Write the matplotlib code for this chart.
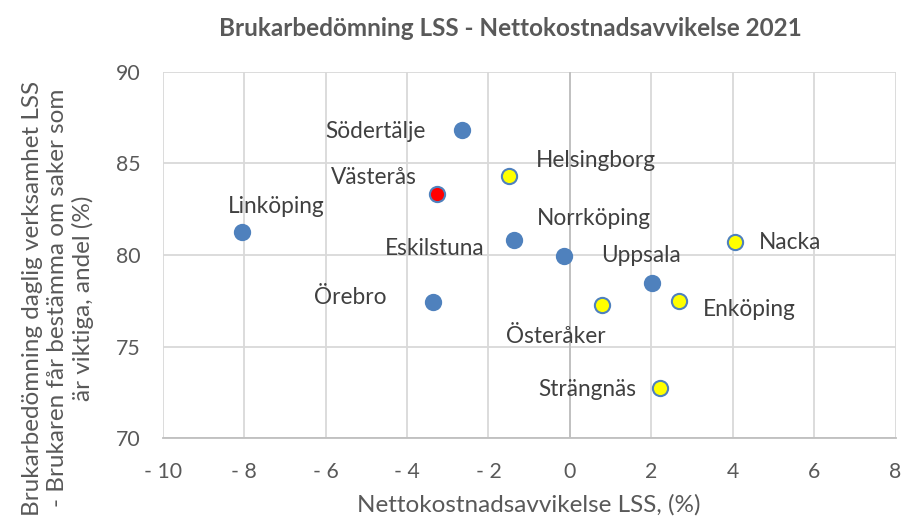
import matplotlib
matplotlib.use("Agg")
import matplotlib.pyplot as plt

plt.rcParams['font.family'] = ['Lato', 'DejaVu Sans']

# Data
kommuner = ["Södertälje", "Västerås", "Helsingborg", "Linköping", "Eskilstuna",
            "Norrköping", "Uppsala", "Nacka", "Enköping", "Österåker",
            "Strängnäs", "Örebro"]
x_vals = [-2.64, -3.26, -1.49, -8.06, -1.38, -0.14, 2.02, 4.06, 2.67, 0.79, 2.21, -3.35]
y_vals = [86.8, 83.34, 84.29, 81.27, 80.82, 79.95, 78.47, 80.73, 77.51, 77.27, 72.73, 77.42]
grupp = ["blue", "red", "yellow", "blue", "blue", "blue", "blue", "yellow",
         "yellow", "yellow", "yellow", "blue"]
x_ticks = [-10, -8, -6, -4, -2, 0, 2, 4, 6, 8]
y_ticks = [70, 75, 80, 85, 90]

# label placement (pixel offsets, ha) -- style only
label_pos = {
    "Södertälje": (-36.6, 0.7, "right"),
    "Västerås": (-20, -16.4, "right"),
    "Helsingborg": (26.7, -16.0, "left"),
    "Linköping": (35, -25, "center"),
    "Eskilstuna": (-28.7, 9, "right"),
    "Norrköping": (30, -37.7, "center"),
    "Uppsala": (-10.6, -28, "center"),
    "Nacka": (23.7, 1, "left"),
    "Enköping": (24.3, 9.3, "left"),
    "Österåker": (-46.3, 31.7, "center"),
    "Strängnäs": (-23.3, 1, "right"),
    "Örebro": (-47, -4.6, "right"),
}

face = {"blue": "#4F81BD", "red": "#FF0000", "yellow": "#FFFF00"}
edge = "#4F81BD"

W, H = 906, 520
fig = plt.figure(figsize=(W / 100, H / 100), dpi=100)
ax = fig.add_axes([162.7 / W, 1 - 438.3 / H, (895.5 - 162.7) / W, (438.3 - 71.7) / H])

ax.set_xlim(-10, 8)
ax.set_ylim(70, 90)
ax.set_xticks(x_ticks)
ax.set_yticks(y_ticks)
ax.set_xticklabels([("- " + str(abs(t))) if t < 0 else str(t) for t in x_ticks])
ax.grid(True, color="#D9D9D9", linewidth=1.3)
ax.set_axisbelow(True)
for s in ["top", "right", "left"]:
    ax.spines[s].set_visible(False)
ax.spines["bottom"].set_color("#BFBFBF")
ax.spines["bottom"].set_linewidth(1.3)
ax.axvline(0, color="#BFBFBF", linewidth=1.3, zorder=1)
ax.tick_params(axis="both", length=0, labelsize=15.3, labelcolor="#595959")
ax.tick_params(axis="x", pad=17)
ax.tick_params(axis="y", pad=16)

for name, xv, yv, g in zip(kommuner, x_vals, y_vals, grupp):
    ax.scatter([xv], [yv], s=120, facecolor=face[g], edgecolor=edge,
               linewidth=1.5, zorder=3)
    dx, dy, ha = label_pos[name]
    ax.annotate(name, (xv, yv), xytext=(dx * 0.72, -dy * 0.72),
                textcoords="offset points", ha=ha, va="center",
                fontsize=16.3, color="#404040", zorder=4)

fig.text(510 / W, 1 - 28 / H, "Brukarbedömning LSS - Nettokostnadsavvikelse 2021",
         ha="center", va="center", fontsize=17.5, fontweight="bold", color="#595959")
ax.set_xlabel("Nettokostnadsavvikelse LSS, (%)", fontsize=17.5, color="#595959",
              labelpad=9)
fig.text(58 / W, 1 - 298 / H,
         "Brukarbedömning daglig verksamhet LSS\n- Brukaren får bestämma om saker som\när viktiga, andel (%)",
         rotation=90, ha="center", va="center", multialignment="center",
         fontsize=17.5, color="#595959", linespacing=1.25)

fig.savefig("out.png", dpi=100)
